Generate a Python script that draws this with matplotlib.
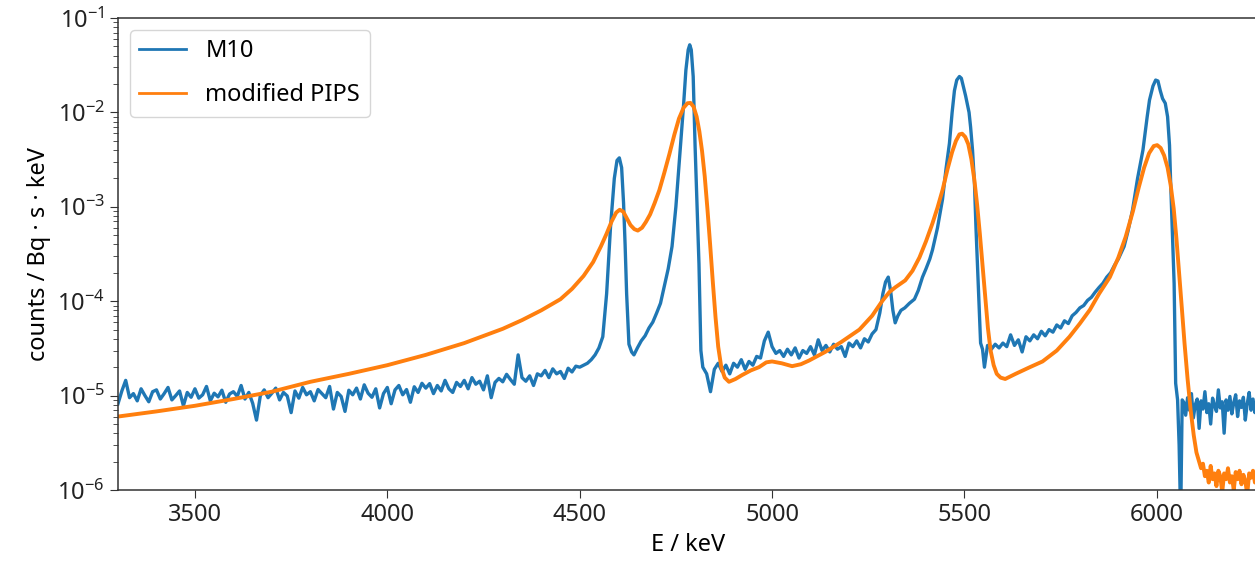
import numpy as np
import matplotlib
matplotlib.use("Agg")
import matplotlib.pyplot as plt

# ── Style ─────────────────────────────────────────────────────
plt.rcParams["font.family"] = ["Noto Sans", "DejaVu Sans"]
plt.rcParams["mathtext.fontset"] = "custom"
plt.rcParams["mathtext.rm"] = "Noto Sans"
plt.rcParams["mathtext.it"] = "Noto Sans:italic"
plt.rcParams["font.size"] = 17
plt.rcParams["axes.edgecolor"] = "#333333"
plt.rcParams["axes.linewidth"] = 1.1
plt.rcParams["xtick.major.size"] = 6
plt.rcParams["ytick.major.size"] = 6
plt.rcParams["ytick.minor.size"] = 3.5
plt.rcParams["xtick.color"] = "#333333"
plt.rcParams["ytick.color"] = "#333333"
plt.rcParams["xtick.labelcolor"] = "#222222"
plt.rcParams["ytick.labelcolor"] = "#222222"

BLUE = "#1f77b4"
ORANGE = "#ff7f0e"

# ── Data: M10 (counts / Bq s keV) ─────────────────────────────
# flat background below the first peak, 10 keV bins (units of 1e-5)
m10_bg1_e = np.arange(3300, 4510, 10)
m10_bg1 = np.array([
    0.82, 1.12, 1.45, 0.95, 1.05, 0.88, 1.18, 1.00, 0.86, 1.10,
    1.15, 0.92, 1.05, 1.22, 0.90, 1.00, 1.12, 0.78, 1.08, 0.96,
    1.18, 0.94, 1.02, 1.25, 0.88, 1.06, 0.97, 1.14, 0.85, 1.04,
    1.10, 0.98, 1.28, 0.92, 1.08, 0.83, 0.55, 1.00, 1.15, 0.95,
    1.06, 1.20, 0.90, 1.08, 0.99, 0.66, 1.12, 0.94, 1.22, 1.02,
    1.10, 0.88, 1.16, 1.05, 0.95, 1.25, 0.72, 1.08, 0.98, 0.68,
    1.14, 1.02, 1.20, 0.92, 1.30, 1.06, 0.96, 1.18, 0.74, 1.05,
    1.22, 0.82, 1.15, 1.28, 1.02, 1.16, 0.85, 1.24, 1.08, 1.35,
    1.20, 1.34, 1.05, 1.28, 1.12, 1.45, 1.18, 1.08, 1.38, 1.25,
    1.45, 1.18, 1.55, 1.32, 1.42, 1.15, 1.62, 0.95, 1.38, 1.52,
    1.40, 1.68, 1.48, 1.32, 2.70, 1.55, 1.42, 1.62, 1.28, 1.70,
    1.62, 1.85, 1.55, 1.92, 1.70, 1.80, 1.52, 1.95, 1.78, 2.05,
    2.00]) * 1e-5

# first two peaks (units of 1e-5)
m10_pk1_e = [4510, 4520, 4530, 4540, 4550, 4560, 4570, 4580, 4590, 4597,
             4603, 4609, 4614, 4618, 4622, 4628, 4635, 4641, 4650, 4660,
             4670, 4680, 4690, 4700, 4710, 4720, 4730, 4740, 4750, 4760,
             4770, 4776, 4782, 4786, 4790, 4795, 4800, 4805, 4810, 4815]
m10_pk1 = np.array([2.1, 2.2, 2.4, 2.7, 3.2, 4.2, 12, 60, 200, 310,
                    330, 260, 110, 40, 12, 3.5, 2.9, 2.7, 3.2, 3.8,
                    4.3, 5.2, 6.0, 7.5, 9.5, 14.5, 22, 38, 100, 350,
                    1200, 2800, 4600, 5200, 4600, 2400, 430, 100, 25, 3.0]) * 1e-5

# background between the peaks (units of 1e-5)
m10_bg2_e = np.arange(4820, 5280, 10)
m10_bg2 = np.array([
    2.0, 1.7, 1.1, 1.9, 2.2, 1.8, 2.1, 1.7, 2.2, 2.0,
    2.4, 1.9, 2.3, 2.1, 2.6, 2.5, 3.8, 4.7, 3.3, 2.8,
    3.0, 2.6, 3.1, 2.7, 3.2, 2.5, 3.0, 2.8, 3.3, 2.7,
    3.9, 3.0, 3.4, 2.9, 3.5, 3.1, 3.3, 2.6, 3.6, 3.3,
    3.8, 3.2, 4.0, 3.7, 4.5, 5.0]) * 1e-5

# third peak (units of 1e-5)
m10_pk2_e = [5280, 5288, 5295, 5302, 5308, 5314, 5320, 5327, 5335, 5345,
             5357, 5370, 5380, 5391, 5400, 5410, 5417, 5430, 5443, 5452,
             5461, 5468, 5474, 5480, 5487, 5492, 5497, 5503, 5508, 5512,
             5516, 5521, 5526, 5530, 5534, 5538, 5542, 5547, 5552]
m10_pk2 = np.array([7.5, 12, 16, 18, 13, 8, 5.9, 7.0, 8.0, 8.5,
                    9.5, 10.5, 13, 18, 22, 28, 35, 60, 120, 250,
                    470, 1000, 1700, 2200, 2400, 2300, 1900, 1500, 1200, 1000,
                    700, 400, 180, 60, 23, 9, 3.6, 3.1, 2.0]) * 1e-5

# background before the last peak (units of 1e-5)
m10_bg3_e = np.arange(5560, 5910, 10)
m10_bg3 = np.array([
    3.4, 3.1, 3.5, 3.2, 3.6, 3.3, 4.4, 3.4, 3.9, 2.9,
    4.2, 3.8, 4.4, 4.0, 4.8, 4.3, 5.0, 4.7, 5.6, 5.2,
    6.2, 5.8, 7.0, 7.6, 8.5, 9.0, 10.2, 11, 12.5, 14,
    15.5, 18, 20, 24, 28]) * 1e-5

# last peak (units of 1e-5)
m10_pk3_e = [5915, 5925, 5937, 5950, 5964, 5975, 5981, 5990, 5997, 6003,
             6009, 6015, 6022, 6028, 6033, 6036, 6040, 6045, 6049, 6054,
             6058, 6062, 6066]
m10_pk3 = np.array([38, 55, 93, 200, 400, 900, 1350, 1900, 2200, 2150,
                    1700, 1400, 1250, 900, 450, 180, 60, 15.5, 1.35, 0.9,
                    0.3, 0.05, 0.9]) * 1e-5

# tail above the last peak, 5 keV bins (units of 1e-5)
m10_tail_e = np.arange(6070, 6270, 5)
m10_tail = np.array([
    0.85, 0.62, 0.95, 0.70, 1.05, 0.58, 0.80, 0.92, 0.45, 0.88,
    0.72, 1.10, 0.66, 0.82, 0.50, 0.94, 0.78, 0.68, 1.15, 0.74,
    0.86, 0.40, 0.90, 0.70, 0.98, 0.64, 0.84, 1.02, 0.60, 0.88,
    0.75, 0.96, 0.55, 0.82, 1.08, 0.70, 0.92, 0.66, 0.86, 0.78]) * 1e-5

# ── Data: modified PIPS ───────────────────────────────────────
pips_e = [3300, 3400, 3500, 3600, 3700, 3800, 3900, 4000, 4100, 4200,
          4300, 4350, 4400, 4450, 4480, 4510, 4535, 4555, 4570, 4583,
          4595, 4604, 4613, 4622, 4632, 4642, 4651, 4662, 4672, 4683,
          4695, 4707, 4720, 4733, 4746, 4758, 4770, 4780, 4788, 4796,
          4804, 4811, 4818, 4825, 4832, 4839, 4846, 4853, 4860, 4868,
          4877, 4888, 4905, 4922, 4945, 4966, 4985, 5000, 5025, 5052,
          5075, 5096, 5138, 5180, 5227, 5260, 5286, 5305, 5320, 5346,
          5365, 5383, 5400, 5417, 5430, 5443, 5456, 5468, 5478, 5487,
          5494, 5502, 5510, 5518, 5526, 5533, 5540, 5547, 5554, 5561,
          5568, 5576, 5584, 5594, 5606, 5633, 5670, 5703, 5740, 5773,
          5800, 5826, 5850, 5878, 5900, 5919, 5938, 5953, 5967, 5980,
          5992, 6001, 6010, 6019, 6028, 6036, 6044, 6051, 6058, 6065,
          6072, 6080, 6088, 6096, 6103]
pips = [6.0e-6, 6.8e-6, 7.8e-6, 9.2e-6, 1.1e-5, 1.4e-5, 1.7e-5, 2.1e-5, 2.7e-5, 3.6e-5,
        5.1e-5, 6.3e-5, 8.0e-5, 1.05e-4, 1.35e-4, 1.85e-4, 2.6e-4, 3.8e-4, 5.2e-4, 7.0e-4,
        8.7e-4, 9.3e-4, 8.9e-4, 7.6e-4, 6.4e-4, 5.8e-4, 5.6e-4, 6.0e-4, 6.9e-4, 8.3e-4,
        1.1e-3, 1.5e-3, 2.3e-3, 3.6e-3, 5.8e-3, 8.6e-3, 1.12e-2, 1.25e-2, 1.26e-2, 1.15e-2,
        9.0e-3, 6.3e-3, 3.9e-3, 2.1e-3, 9.5e-4, 4.0e-4, 1.6e-4, 6.8e-5, 3.3e-5, 2.0e-5,
        1.55e-5, 1.4e-5, 1.5e-5, 1.65e-5, 1.85e-5, 2.0e-5, 2.25e-5, 2.3e-5, 2.2e-5, 2.05e-5,
        2.15e-5, 2.35e-5, 2.9e-5, 3.7e-5, 5.0e-5, 7.0e-5, 1.0e-4, 1.25e-4, 1.4e-4, 1.66e-4,
        2.1e-4, 2.9e-4, 4.3e-4, 6.7e-4, 9.8e-4, 1.5e-3, 2.5e-3, 3.8e-3, 5.0e-3, 5.85e-3,
        5.95e-3, 5.5e-3, 4.6e-3, 3.2e-3, 1.9e-3, 1.05e-3, 5.2e-4, 2.4e-4, 1.1e-4, 5.2e-5,
        3.0e-5, 2.1e-5, 1.7e-5, 1.55e-5, 1.5e-5, 1.7e-5, 2.0e-5, 2.3e-5, 3.0e-5, 4.2e-5,
        5.8e-5, 8.1e-5, 1.2e-4, 1.8e-4, 2.9e-4, 4.8e-4, 9.0e-4, 1.6e-3, 2.6e-3, 3.7e-3,
        4.4e-3, 4.5e-3, 4.2e-3, 3.5e-3, 2.6e-3, 1.7e-3, 9.5e-4, 4.6e-4, 2.0e-4, 8.5e-5,
        3.6e-5, 1.5e-5, 7.0e-6, 3.8e-6, 2.5e-6]

# tail above the last peak, 5 keV bins (units of 1e-6)
pips_tail_e = np.arange(6110, 6270, 5)
pips_tail = np.array([
    2.0, 1.7, 1.9, 1.4, 1.6, 1.2, 1.8, 1.3, 1.5, 1.1,
    1.6, 1.4, 0.95, 1.5, 1.3, 1.7, 1.2, 1.4, 1.0, 1.55,
    1.3, 1.6, 1.15, 1.45, 1.25, 0.9, 1.5, 1.35, 1.6, 1.2,
    1.4, 1.1]) * 1e-6

m10_e = np.concatenate([m10_bg1_e, m10_pk1_e, m10_bg2_e, m10_pk2_e,
                        m10_bg3_e, m10_pk3_e, m10_tail_e])
m10 = np.concatenate([m10_bg1, m10_pk1, m10_bg2, m10_pk2,
                      m10_bg3, m10_pk3, m10_tail])
pips_all_e = np.concatenate([pips_e, pips_tail_e])
pips_all = np.concatenate([pips, pips_tail])

# ── Plot ──────────────────────────────────────────────────────
fig = plt.figure(figsize=(12.55, 5.76), dpi=100)
ax = fig.add_axes([118 / 1255, 86 / 576, 1 - 118 / 1255 + 0.003, 472 / 576])

ax.plot(m10_e, m10, color=BLUE, lw=2.4, label="M10")
ax.plot(pips_all_e, pips_all, color=ORANGE, lw=2.8, label="modified PIPS")

ax.set_yscale("log")
ax.set_ylim(1e-6, 1e-1)
ax.set_xlim(3300, 6265)
ax.set_xticks([3500, 4000, 4500, 5000, 5500, 6000])
ax.tick_params(axis="both", labelsize=17)

ax.set_xlabel("E / keV", fontsize=17)
ax.set_ylabel("counts / Bq · s · keV", fontsize=17)
leg = ax.legend(loc="upper left", fontsize=17, labelspacing=0.85)
for line in leg.get_lines():
    line.set_linewidth(2.0)

fig.savefig("out.png", dpi=100)
